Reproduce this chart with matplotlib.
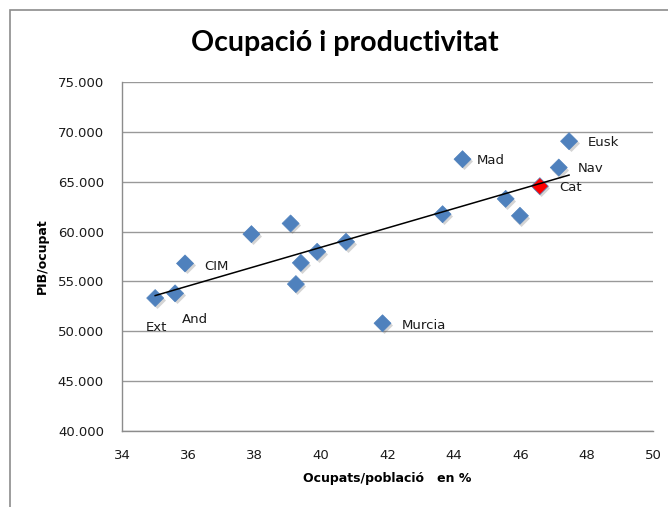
import numpy as np
import matplotlib
matplotlib.use('Agg')
import matplotlib.pyplot as plt
from matplotlib.ticker import FuncFormatter
from matplotlib.patches import Rectangle
import matplotlib.transforms as mtransforms

# Occupied / population (%) and GDP per worker, by region
ocupats = [35.0, 35.6, 35.9, 37.9, 39.08, 39.24, 39.39, 39.88, 40.75, 41.85,
           43.66, 44.26, 45.56, 45.99, 46.59, 47.16, 47.47]
pib = [53330, 53800, 56800, 59740, 60810, 54730, 56860, 57970, 58970, 50800,
       61740, 67255, 63280, 61580, 64550, 66420, 69060]
noms = ['Ext', 'And', 'CIM', '', '', '', '', '', '', 'Murcia',
        '', 'Mad', '', '', 'Cat', 'Nav', 'Eusk']
destacat = 'Cat'

# label offsets in pixels (dx, dy) and horizontal alignment
offsets = {'Ext': (1, -29, 'center'), 'And': (20, -26, 'center'),
           'CIM': (19, -3, 'left'), 'Murcia': (19, -2, 'left'),
           'Mad': (14, -1, 'left'), 'Eusk': (19, -1, 'left'),
           'Nav': (19, -1, 'left'), 'Cat': (19, -1, 'left')}

blue = '#4F81BD'

fig = plt.figure(figsize=(6.68, 5.07), dpi=100)
ax = fig.add_axes([0.1826, 0.15, 0.795, 0.6883])

# outer chart border (runs off the right/bottom edge)
fig.patches.append(Rectangle((10 / 668, -0.05), 1.1, (507 - 10) / 507 + 0.05,
                             transform=fig.transFigure, fill=False,
                             edgecolor='#8c8c8c', linewidth=1.2))

colors = ['red' if n == destacat else blue for n in noms]

# soft shadow
shadow = mtransforms.offset_copy(ax.transData, fig=fig, x=1.5, y=-2, units='dots')
ax.scatter(ocupats, pib, marker='D', s=75, color='#555555', alpha=0.25,
           linewidths=0, transform=shadow, zorder=3)
ax.scatter(ocupats, pib, marker='D', s=75, c=colors, edgecolors=blue,
           linewidths=0.5, zorder=4)

# linear trend line
coef = np.polyfit(ocupats, pib, 1)
xs = np.array([min(ocupats), max(ocupats)])
ax.plot(xs, np.polyval(coef, xs), color='black', linewidth=1.1, zorder=5)

for x, y, n in zip(ocupats, pib, noms):
    if n:
        dx, dy, ha = offsets[n]
        ax.annotate(n, (x, y), xytext=(dx, dy), textcoords='offset pixels',
                    ha=ha, va='center', fontsize=9.5, color='#1a1a1a')

ax.set_xlim(34, 50)
ax.set_ylim(40000, 75000)
ax.set_xticks(range(34, 51, 2))
ax.set_yticks(range(40000, 75001, 5000))
ax.yaxis.set_major_formatter(FuncFormatter(lambda v, p: f'{int(v):,}'.replace(',', '.')))
ax.tick_params(length=0, labelsize=9.5, pad=13, colors='#1a1a1a')
ax.grid(axis='y', color='#999999', linewidth=1)
ax.set_axisbelow(True)
for s in ['top', 'right']:
    ax.spines[s].set_visible(False)
for s in ['left', 'bottom']:
    ax.spines[s].set_color('#8c8c8c')
    ax.spines[s].set_linewidth(1)

ax.set_xlabel('Ocupats/població   en %', fontsize=9, fontweight='bold', labelpad=7)
ax.set_ylabel('PIB/ocupat', fontsize=9, fontweight='bold', labelpad=6)
fig.text(0.516, 0.915, 'Ocupació i productivitat', ha='center', va='center',
         fontsize=20.5, fontweight='bold', family='Lato')

fig.savefig('out.png', dpi=100)
